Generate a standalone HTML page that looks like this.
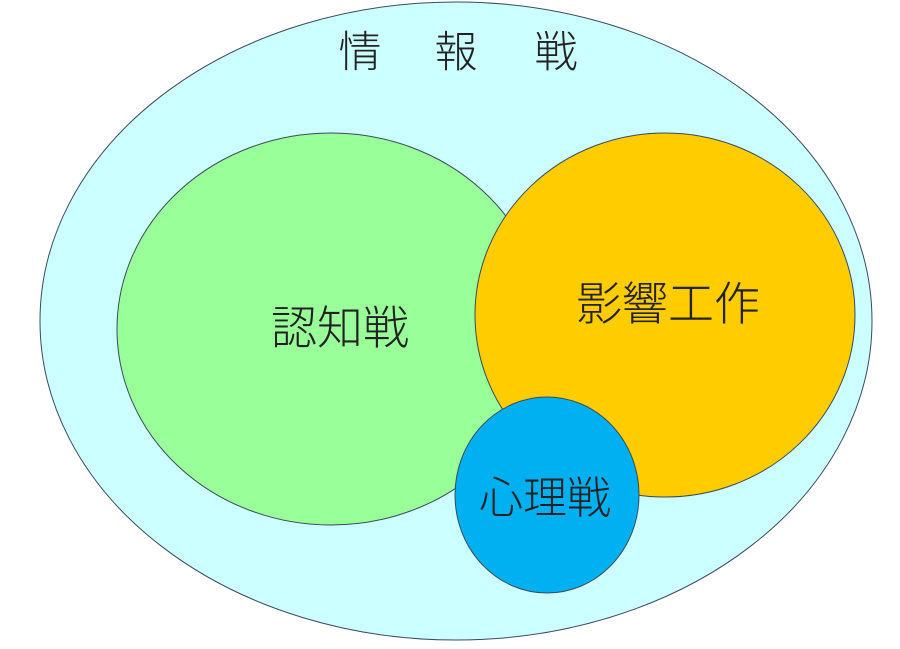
<!DOCTYPE html>
<html><head><meta charset="utf-8"><style>
html,body{margin:0;padding:0;background:#fff;}
svg{display:block;}
text{font-family:"Liberation Sans","Noto Sans CJK JP",sans-serif;font-weight:300;fill:#222;}
</style></head><body>
<svg width="900" height="649" viewBox="0 0 900 649" xmlns="http://www.w3.org/2000/svg">
<ellipse cx="456" cy="321" rx="416" ry="319" fill="#ccffff" stroke="#3a4a5a" stroke-width="1"/>
<ellipse cx="331" cy="329" rx="214" ry="196" fill="#99ff99" stroke="#3a4a5a" stroke-width="1"/>
<ellipse cx="665" cy="315" rx="190" ry="182" fill="#ffcc00" stroke="#3a4a5a" stroke-width="1"/>
<ellipse cx="547" cy="495" rx="92" ry="98" fill="#00b0f0" stroke="#3a4a5a" stroke-width="1"/>
<text x="360" y="67" font-size="43" text-anchor="middle">情</text>
<text x="456" y="67" font-size="43" text-anchor="middle">報</text>
<text x="556" y="67" font-size="43" text-anchor="middle">戦</text>
<text x="340" y="344" font-size="46" text-anchor="middle">認知戦</text>
<text x="668" y="320" font-size="46" text-anchor="middle">影響工作</text>
<text x="545" y="513" font-size="44" text-anchor="middle">心理戦</text>
</svg>
</body></html>
